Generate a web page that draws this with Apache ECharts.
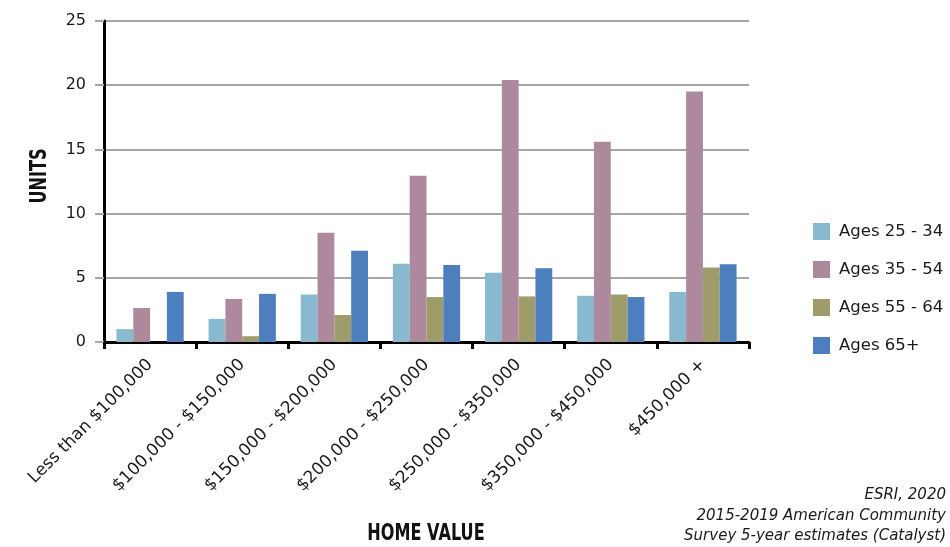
<!DOCTYPE html>
<html>
<head>
<meta charset="utf-8">
<style>
  html, body { margin: 0; padding: 0; background: #ffffff; }
  #chart { width: 950px; height: 547px; }
</style>
<script src="https://cdn.jsdelivr.net/npm/echarts@6/dist/echarts.min.js"></script>
</head>
<body>
<div id="chart"></div>
<script>
// Home value brackets
const categories = [
  'Less than $100,000',
  '$100,000 - $150,000',
  '$150,000 - $200,000',
  '$200,000 - $250,000',
  '$250,000 - $350,000',
  '$350,000 - $450,000',
  '$450,000 +'
];

// Units by householder age group
const ages25to34 = [1.0, 1.8, 3.7, 6.1, 5.4, 3.6, 3.9];
const ages35to54 = [2.65, 3.35, 8.5, 12.95, 20.4, 15.6, 19.5];
const ages55to64 = [null, 0.45, 2.1, 3.5, 3.55, 3.7, 5.8];
const ages65plus = [3.9, 3.75, 7.1, 6.0, 5.75, 3.5, 6.05];

const seriesNames = ['Ages 25 - 34', 'Ages 35 - 54', 'Ages 55 - 64', 'Ages 65+'];
const seriesColors = ['#88b9cf', '#ad899d', '#9f9c6b', '#4d7ebd'];

const yTicks = { min: 0, max: 25, interval: 5 };

const axisTitles = { x: 'HOME VALUE', y: 'UNITS' };

const sourceLines = [
  'ESRI, 2020',
  '2015-2019 American Community',
  'Survey 5-year estimates (Catalyst)'
];

const baseFont = '"DejaVu Sans", "Noto Sans", sans-serif';
const titleFont = 'bold 23px "DejaVu Sans", sans-serif';

const chart = echarts.init(document.getElementById('chart'), null, { renderer: 'canvas' });

const values = [ages25to34, ages35to54, ages55to64, ages65plus];

chart.setOption({
  animation: false,
  backgroundColor: '#ffffff',
  grid: { left: 104, right: 201, top: 21, bottom: 205, containLabel: false, outerBoundsMode: 'none' },
  legend: {
    orient: 'vertical',
    left: 808,
    top: 218,
    itemWidth: 17,
    itemHeight: 17,
    itemGap: 21,
    icon: 'rect',
    textStyle: { fontFamily: baseFont, fontSize: 16.5, color: '#1a1a1a', padding: [0, 0, 0, 4] },
    data: seriesNames
  },
  xAxis: {
    type: 'category',
    data: categories,
    axisLine: { lineStyle: { color: '#000', width: 3 } },
    axisTick: { show: true, length: 7, lineStyle: { color: '#000', width: 3 } },
    axisLabel: {
      rotate: 45,
      margin: 20,
      fontFamily: baseFont,
      fontSize: 17,
      color: '#1a1a1a',
      interval: 0
    },
    splitLine: { show: false }
  },
  yAxis: {
    type: 'value',
    min: yTicks.min,
    max: yTicks.max,
    interval: yTicks.interval,
    axisLine: { show: true, lineStyle: { color: '#000', width: 3 } },
    axisTick: { show: true, length: 9, lineStyle: { color: '#a6a6a6', width: 2 } },
    axisLabel: { margin: 18, fontFamily: baseFont, fontSize: 16, color: '#1a1a1a' },
    splitLine: { show: true, lineStyle: { color: '#a6a6a6', width: 2 } }
  },
  series: seriesNames.map((name, i) => ({
    name: name,
    type: 'bar',
    data: values[i],
    barGap: '0%',
    barCategoryGap: '27%',
    itemStyle: { color: seriesColors[i] },
    z: 3
  })),
  graphic: [
    {
      type: 'text',
      x: 426,
      y: 534,
      scaleX: 0.7,
      style: {
        text: axisTitles.x,
        font: titleFont,
        fill: '#111',
        align: 'center',
        verticalAlign: 'middle'
      }
    },
    {
      type: 'text',
      x: 40,
      y: 176,
      rotation: Math.PI / 2,
      scaleX: 0.7,
      style: {
        text: axisTitles.y,
        font: titleFont,
        fill: '#111',
        align: 'center',
        verticalAlign: 'middle'
      }
    },
    {
      type: 'text',
      x: 946,
      y: 485,
      style: {
        text: sourceLines.join('\n'),
        font: 'italic 15px ' + baseFont,
        fill: '#1a1a1a',
        align: 'right',
        lineHeight: 20.5
      }
    }
  ]
});
</script>
</body>
</html>
